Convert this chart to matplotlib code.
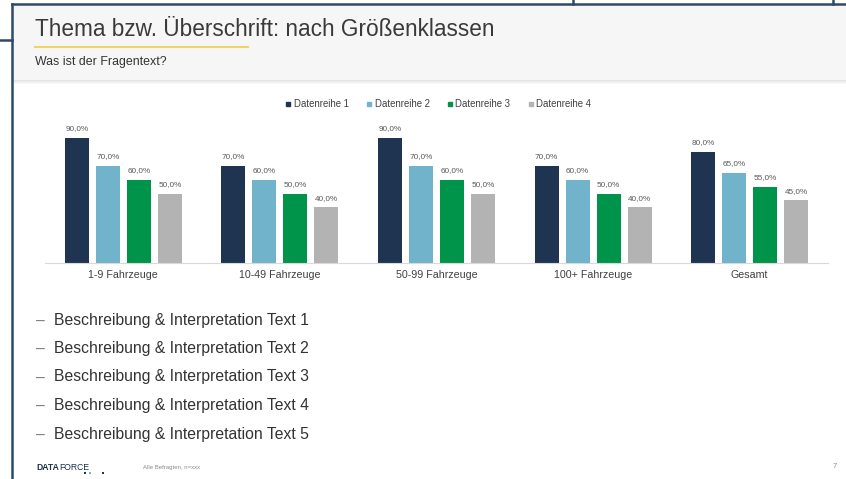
import matplotlib
matplotlib.use("Agg")
import matplotlib.pyplot as plt
import numpy as np
from matplotlib.patches import Rectangle
from matplotlib.lines import Line2D

categories = ["1-9 Fahrzeuge", "10-49 Fahrzeuge", "50-99 Fahrzeuge", "100+ Fahrzeuge", "Gesamt"]
series_names = ["Datenreihe 1", "Datenreihe 2", "Datenreihe 3", "Datenreihe 4"]
reihe1 = [90.0, 70.0, 90.0, 70.0, 80.0]
reihe2 = [70.0, 60.0, 70.0, 60.0, 65.0]
reihe3 = [60.0, 50.0, 60.0, 50.0, 55.0]
reihe4 = [50.0, 40.0, 50.0, 40.0, 45.0]
bullets = ["Beschreibung & Interpretation Text 1", "Beschreibung & Interpretation Text 2",
           "Beschreibung & Interpretation Text 3", "Beschreibung & Interpretation Text 4",
           "Beschreibung & Interpretation Text 5"]
colors = ["#1f3450", "#72b3cc", "#00934a", "#b3b3b3"]

plt.rcParams['font.family'] = ['Liberation Sans', 'DejaVu Sans']

W, H = 846, 479
fig = plt.figure(figsize=(W / 100, H / 100), dpi=100)
fig.patch.set_facecolor("white")

def fx(x):
    return x / W

def fy(y):
    return 1 - y / H

# header background
fig.add_artist(Rectangle((fx(13), fy(80)), fx(846 - 13), 75 / H, transform=fig.transFigure,
                         facecolor="#f6f6f6", edgecolor="none", zorder=0))
for i, c in enumerate(["#e4e4e4", "#ececec", "#f2f2f2", "#f8f8f8"]):
    fig.add_artist(Rectangle((fx(13), fy(81 + i)), fx(846 - 13), 1 / H, transform=fig.transFigure,
                             facecolor=c, edgecolor="none", zorder=0))

# frame lines
fc = "#2e4a6b"
for xs, ys in [([12, 12], [4, 479]), ([12, 846], [4, 4]), ([0, 12], [40, 40]),
               ([573, 573], [0, 4]), ([833, 833], [0, 4])]:
    fig.add_artist(Line2D([fx(x) for x in xs], [fy(y) for y in ys], transform=fig.transFigure,
                          color=fc, lw=1.8, zorder=5))

# title
fig.text(fx(35), fy(30), "Thema bzw. Überschrift: nach Größenklassen", fontsize=16.3,
         color="#3a3a3a", va="center", ha="left")
fig.add_artist(Line2D([fx(35), fx(248)], [fy(47), fy(47)], transform=fig.transFigure,
                      color="#f0d466", lw=1.5))
fig.text(fx(35), fy(62), "Was ist der Fragentext?", fontsize=8.9, color="#333333",
         va="center", ha="left")

# chart
ax_left, ax_right = 45, 828
ax_bottom, ax_top = 263, 124
ax = fig.add_axes([fx(ax_left), fy(ax_bottom), fx(ax_right - ax_left), (ax_bottom - ax_top) / H])
ax.set_facecolor("none")
x = np.arange(len(categories))
width = 0.153
step = 0.198
offsets = (np.arange(4) - 1.5) * step
all_series = [reihe1, reihe2, reihe3, reihe4]
for i, (vals, col, name) in enumerate(zip(all_series, colors, series_names)):
    bars = ax.bar(x + offsets[i], vals, width=width, color=col, label=name)
    for b, v in zip(bars, vals):
        ax.text(b.get_x() + b.get_width() / 2, v + 4, f"{v:.1f}".replace(".", ",") + "%",
                ha="center", va="bottom", fontsize=5.9, color="#595959")
ax.set_xlim(-0.5, 4.5)
ax.set_ylim(0, 100)
ax.set_yticks([])
ax.set_xticks(x)
ax.set_xticklabels(categories, fontsize=7.7, color="#404040")
ax.tick_params(axis="x", length=0, pad=5)
for s in ["top", "right", "left"]:
    ax.spines[s].set_visible(False)
ax.spines["bottom"].set_color("#d9d9d9")
ax.spines["bottom"].set_linewidth(0.8)

handles = [Line2D([], [], marker="s", linestyle="none", markersize=3, color=c) for c in colors]
fig.legend(handles, series_names, loc="center", bbox_to_anchor=(fx(438), fy(104)), ncol=4,
           frameon=False, fontsize=6.9, handletextpad=0.15, columnspacing=1.75,
           handlelength=0.8, labelcolor="#404040")

# bullets
for i, t in enumerate(bullets):
    y = 320 + i * 28.5
    fig.text(fx(36), fy(y + 1), "–", fontsize=11.3, color="#7f7f7f", va="center", ha="left")
    fig.text(fx(54), fy(y), t, fontsize=11.3, color="#333333", va="center", ha="left")

# footer
t1 = fig.text(fx(36), fy(467), "DATA", fontsize=6.2, fontweight="bold", color="#1f2f45", va="center")
r = fig.canvas.get_renderer()
bb = t1.get_window_extent(renderer=r)
fig.text(bb.x1 / W, fy(467), "FORCE", fontsize=6.2, color="#1f2f45", va="center")
for (px, py, c) in [(84, 474, "#1f3450"), (89, 474, "#72b3cc"), (102, 474, "#1f3450")]:
    fig.add_artist(Rectangle((fx(px), fy(py)), 2 / W, 2 / H, transform=fig.transFigure,
                             facecolor=c, edgecolor="none"))
fig.text(fx(143), fy(467), "Alle Befragten, n=xxx", fontsize=4.3, color="#8c8c8c", va="center")
fig.text(fx(833), fy(467), "7", fontsize=5.5, color="#8c8c8c", va="center")

fig.savefig("out.png", dpi=100)
